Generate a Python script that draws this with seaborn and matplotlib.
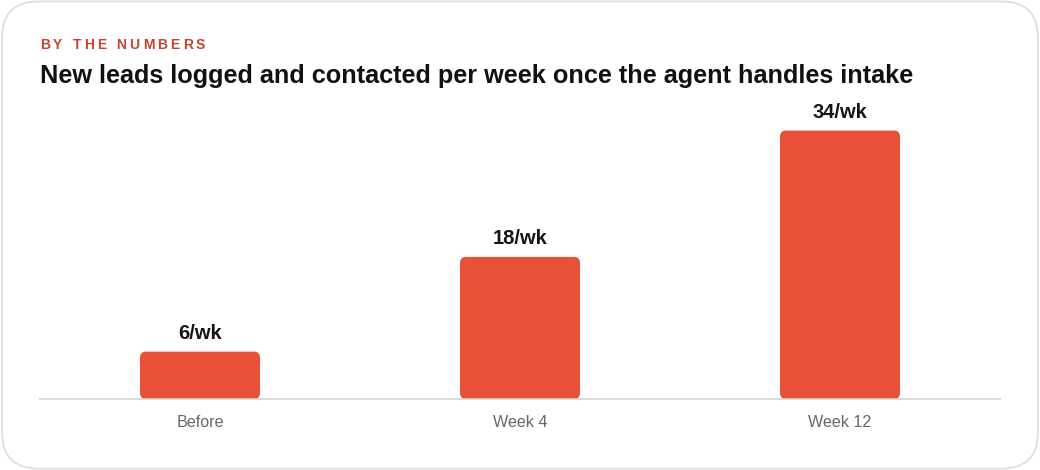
import matplotlib.pyplot as plt
import pandas as pd
import seaborn as sns
from matplotlib.patches import FancyBboxPatch

# Chart data
categories = ['Before', 'Week 4', 'Week 12']
leads_per_week = [6, 18, 34]
value_labels = ['6/wk', '18/wk', '34/wk']

BAR_COLOR = '#E8503A'
ACCENT = '#C2452F'
Y_MAX = 38

sns.set_theme(style='white')
plt.rcParams['font.family'] = ['Liberation Sans', 'DejaVu Sans']

df = pd.DataFrame({'period': categories, 'leads': leads_per_week})

fig = plt.figure(figsize=(10.4, 4.7), dpi=100)
fig.patch.set_facecolor('white')

# Card background
card = FancyBboxPatch((0.002, 0.003), 0.996, 0.994, boxstyle='round,pad=0,rounding_size=0.035',
                      transform=fig.transFigure, facecolor='white', edgecolor='#dcdcdc',
                      linewidth=1.2, mutation_aspect=1040 / 470, zorder=-5)
fig.patches.append(card)

# Axes: x 40..1000 px, baseline at y=399 px
ax_h_px = 300
ax = fig.add_axes([40 / 1040, (470 - 399) / 470, 960 / 1040, ax_h_px / 470])
ax.set_facecolor('none')
sns.barplot(data=df, x='period', y='leads', color=BAR_COLOR, width=0.375,
            saturation=1, ax=ax)
ax.set_xlim(-0.5, 2.5)
ax.set_ylim(0, Y_MAX)

# Swap square bars for rounded ones (radius ~6 px)
x_per_px = 3 / 960
y_per_px = Y_MAX / ax_h_px
for bar in list(ax.patches):
    x, y = bar.get_x(), bar.get_y()
    w, h = bar.get_width(), bar.get_height()
    bar.remove()
    rounded = FancyBboxPatch((x, y), w, h, boxstyle=f'round,pad=0,rounding_size={6 * x_per_px}',
                             mutation_aspect=y_per_px / x_per_px,
                             facecolor=BAR_COLOR, edgecolor='none', zorder=2)
    ax.add_patch(rounded)

for i, (val, lab) in enumerate(zip(leads_per_week, value_labels)):
    ax.annotate(lab, (i, val), xytext=(0, 6.5), textcoords='offset points',
                ha='center', va='bottom', fontsize=14.5, fontweight='bold', color='#151515')

sns.despine(ax=ax, left=True)
ax.spines['bottom'].set_color('#d8d3cc')
ax.spines['bottom'].set_linewidth(1.2)
ax.set_yticks([])
ax.set_xlabel('')
ax.set_ylabel('')
ax.tick_params(axis='x', length=0, pad=11.5, labelsize=11.6, labelcolor='#666666')

# Letter-spaced eyebrow label
fig.canvas.draw()
renderer = fig.canvas.get_renderer()
xpos = 40
for ch in 'BY THE NUMBERS':
    t = fig.text(xpos / 1040, 1 - 45 / 470, ch, fontsize=10, fontweight='bold',
                 color=ACCENT, va='center', ha='left')
    bb = t.get_window_extent(renderer)
    xpos += (bb.width if ch != ' ' else 4) + 3.1

fig.text(40 / 1040, 1 - 76 / 470,
         'New leads logged and contacted per week once the agent handles intake',
         fontsize=18.2, fontweight='bold', color='#111111', va='center', ha='left')

plt.savefig('out.png', dpi=100, facecolor=fig.get_facecolor())
plt.close(fig)
